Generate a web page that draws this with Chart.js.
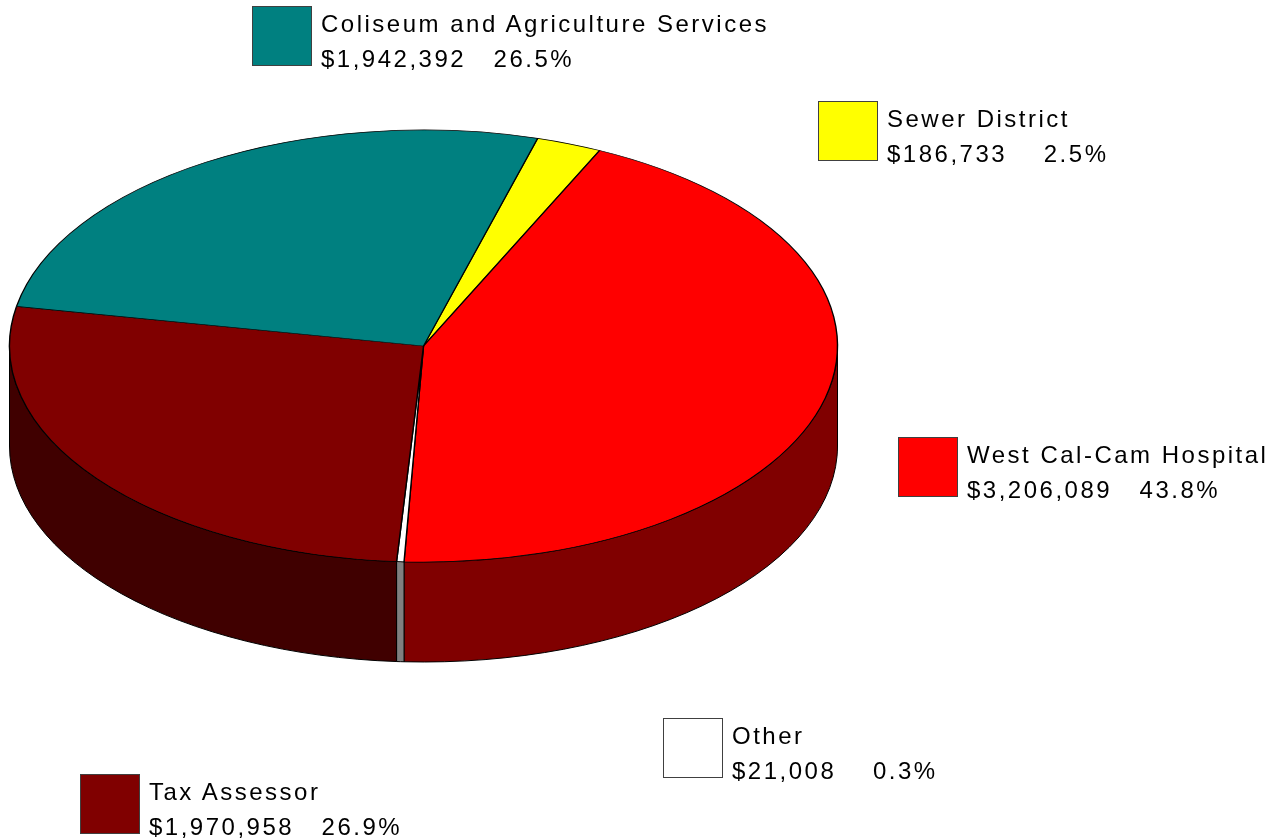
<!DOCTYPE html>
<html>
<head>
<meta charset="utf-8">
<script src="https://cdn.jsdelivr.net/npm/chart.js@4"></script>
<style>
  html, body { margin: 0; padding: 0; background: #fff; }
  #wrap { position: relative; width: 1277px; height: 840px; overflow: hidden; }
  #pie { position: absolute; left: 0; top: 0; }
  .swatch { position: absolute; width: 58px; height: 58px; border: 1px solid #404040; }
  .txt {
    position: absolute;
    font-family: "Liberation Sans", Arial, sans-serif;
    font-size: 24px;
    line-height: 35px;
    letter-spacing: 2.5px;
    white-space: pre;
    color: #000;
  }
</style>
</head>
<body>
<div id="wrap"><canvas id="pie" width="1277" height="840"></canvas></div>
<script>
const categories = ['Sewer District', 'West Cal-Cam Hospital', 'Other', 'Tax Assessor', 'Coliseum and Agriculture Services'];
const amounts = [186733, 3206089, 21008, 1970958, 1942392];
const gaps = ['    ', '   ', '    ', '   ', '   '];

const topColors = ['#ffff00', '#ff0000', '#ffffff', '#800000', '#008080'];
const sideColors = ['#808000', '#800000', '#808080', '#400000', '#004040'];
const keySpots = [[818, 101], [898, 437], [663, 718], [80, 774], [252, 6]];

const DEPTH = 100;        // height of the pie's rim
const TILT = 216 / 414;   // vertical squash of the top face

const total = amounts.reduce((a, b) => a + b, 0);

// rim first, then the flattened top face drawn by the pie controller
const pie3d = {
  id: 'pie3d',
  beforeDatasetsDraw(chart) {
    const ctx = chart.ctx;
    const arcs = chart.getDatasetMeta(0).data;
    arcs.forEach((arc, i) => {
      const a = Math.max(arc.startAngle, 0);
      const b = Math.min(arc.endAngle, Math.PI);
      if (b <= a) return;
      const rx = arc.outerRadius, ry = rx * TILT;
      ctx.beginPath();
      ctx.ellipse(arc.x, arc.y, rx, ry, 0, a, b);
      ctx.lineTo(arc.x + rx * Math.cos(b), arc.y + ry * Math.sin(b) + DEPTH);
      ctx.ellipse(arc.x, arc.y + DEPTH, rx, ry, 0, b, a, true);
      ctx.closePath();
      ctx.fillStyle = sideColors[i];
      ctx.fill();
      ctx.lineWidth = 1;
      ctx.strokeStyle = '#000';
      ctx.stroke();
    });
    const { x, y } = arcs[0];
    ctx.save();
    ctx.translate(x, y);
    ctx.scale(1, TILT);
    ctx.translate(-x, -y);
  },
  afterDatasetsDraw(chart) {
    chart.ctx.restore();
  }
};

new Chart(document.getElementById('pie'), {
  type: 'pie',
  data: {
    labels: categories,
    datasets: [{
      data: amounts,
      backgroundColor: topColors,
      borderColor: '#000',
      borderWidth: 1.4,
      clip: false
    }]
  },
  options: {
    responsive: false,
    animation: false,
    events: [],
    rotation: 16,
    radius: 414,
    layout: { padding: { left: 0, right: 430, top: 0, bottom: 148 } },
    plugins: {
      legend: { display: false },
      tooltip: { enabled: false }
    }
  },
  plugins: [pie3d]
});

// keys: swatch + name + amount and share
const wrap = document.getElementById('wrap');
categories.forEach((name, i) => {
  const [bx, by] = keySpots[i];
  const sw = document.createElement('div');
  sw.className = 'swatch';
  sw.style.left = bx + 'px';
  sw.style.top = by + 'px';
  sw.style.background = topColors[i];
  wrap.appendChild(sw);

  const t = document.createElement('div');
  t.className = 'txt';
  t.style.left = (bx + 69) + 'px';
  t.style.top = by + 'px';
  const pct = (amounts[i] / total * 100).toFixed(1) + '%';
  t.textContent = name + '\n$' + amounts[i].toLocaleString('en-US') + gaps[i] + pct;
  wrap.appendChild(t);
});
</script>
</body>
</html>
